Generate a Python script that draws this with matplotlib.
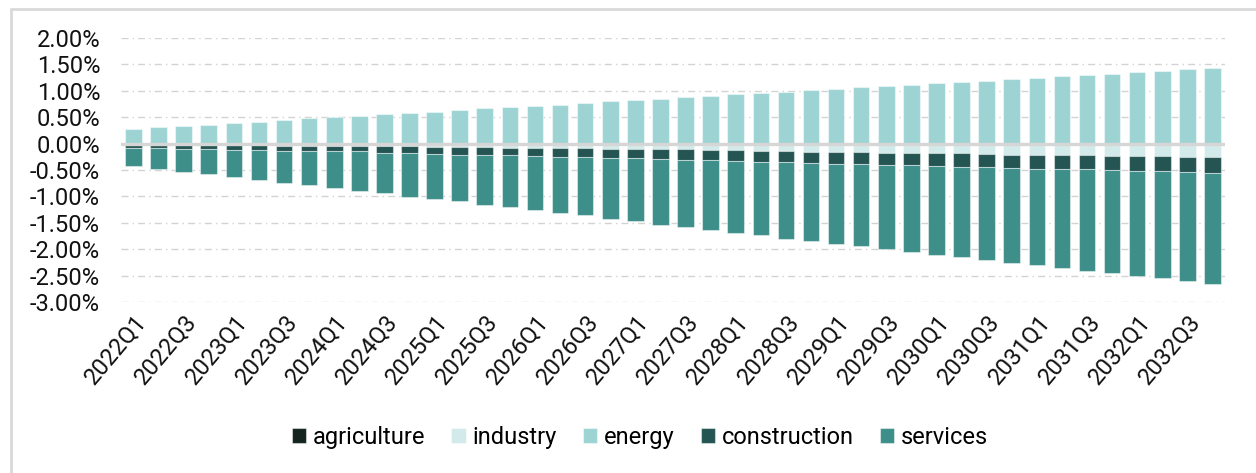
import numpy as np
import matplotlib
matplotlib.use('Agg')
import matplotlib.pyplot as plt
from matplotlib.patches import Rectangle
from matplotlib.ticker import FuncFormatter

plt.rcParams['font.family'] = ['Roboto', 'DejaVu Sans']

# quarters 2022Q1 .. 2032Q4
quarters = [f"{y}Q{q}" for y in range(2022, 2033) for q in range(1, 5)]

agriculture = [-0.01] * 26 + [-0.005] * 8 + [0.015] * 10

industry = [-0.015, -0.015, -0.02, -0.02, -0.025, -0.025, -0.03, -0.03, -0.035, -0.035,
            -0.035, -0.04, -0.05, -0.06, -0.06, -0.065, -0.065, -0.073, -0.079, -0.09,
            -0.09, -0.1, -0.1, -0.115, -0.115, -0.13, -0.135, -0.145, -0.155, -0.155,
            -0.17, -0.172, -0.18, -0.18, -0.196, -0.208, -0.208, -0.215, -0.22, -0.228,
            -0.23, -0.24, -0.25, -0.255]

energy = [0.268, 0.306, 0.330, 0.349, 0.387, 0.412, 0.438, 0.475, 0.500, 0.519,
          0.557, 0.577, 0.604, 0.628, 0.666, 0.685, 0.709, 0.736, 0.774, 0.798,
          0.817, 0.845, 0.872, 0.909, 0.934, 0.958, 0.985, 1.006, 1.025, 1.062,
          1.087, 1.113, 1.138, 1.162, 1.174, 1.204, 1.230, 1.255, 1.274, 1.306,
          1.330, 1.362, 1.387, 1.406]

construction = [-0.05, -0.058, -0.064, -0.064, -0.078, -0.078, -0.092, -0.092, -0.10, -0.10,
                -0.125, -0.133, -0.129, -0.138, -0.138, -0.146, -0.151, -0.162, -0.164, -0.164,
                -0.177, -0.173, -0.192, -0.19, -0.196, -0.20, -0.213, -0.216, -0.217, -0.225,
                -0.221, -0.232, -0.23, -0.249, -0.251, -0.245, -0.264, -0.27, -0.265, -0.263,
                -0.279, -0.283, -0.278, -0.292]

services = [-0.353, -0.402, -0.438, -0.485, -0.517, -0.574, -0.604, -0.655, -0.698, -0.749,
            -0.773, -0.823, -0.862, -0.886, -0.95, -0.987, -1.038, -1.07, -1.105, -1.164,
            -1.195, -1.253, -1.277, -1.315, -1.366, -1.396, -1.447, -1.477, -1.517, -1.558,
            -1.604, -1.642, -1.687, -1.717, -1.749, -1.805, -1.83, -1.868, -1.919, -1.962,
            -1.995, -2.024, -2.07, -2.102]

series = [
    ('agriculture', agriculture, '#14241f'),
    ('industry', industry, '#d3eaea'),
    ('energy', energy, '#9dd4d3'),
    ('construction', construction, '#245553'),
    ('services', services, '#3e8e8a'),
]

fig = plt.figure(figsize=(12.56, 4.73), dpi=100)
ax = fig.add_axes([0.0963, 0.361, 0.879, 0.559])

x = np.arange(len(quarters))
pos_base = np.zeros(len(quarters))
neg_base = np.zeros(len(quarters))
for name, vals, color in series:
    v = np.array(vals)
    bottom = np.where(v >= 0, pos_base, neg_base)
    ax.bar(x, v, bottom=bottom, width=0.66, color=color, label=name,
           edgecolor=(1, 1, 1, 0.45), linewidth=0.8, zorder=2)
    pos_base += np.where(v >= 0, v, 0)
    neg_base += np.where(v < 0, v, 0)

ax.axhline(0, color='#d6d6d6', lw=2.4, zorder=3)

ax.set_ylim(-3, 2)
ax.set_xlim(-0.5, len(quarters) - 0.5)
ax.set_yticks(np.arange(-3, 2.01, 0.5))
ax.yaxis.set_major_formatter(FuncFormatter(lambda v, p: f"{v:.2f}%"))
ax.grid(axis='y', color='#d3d3d3', lw=1, linestyle=(0, (5, 3, 1, 3)), zorder=0)
ax.set_axisbelow(True)

ax.set_xticks(x[::2])
ax.set_xticklabels(quarters[::2], rotation=50, ha='right', rotation_mode='anchor')
for s in ax.spines.values():
    s.set_visible(False)
ax.tick_params(axis='both', length=0, labelsize=17, colors='#111111')
ax.tick_params(axis='y', pad=15)
ax.tick_params(axis='x', pad=6)

fig.legend(loc='center', bbox_to_anchor=(640 / 1256, 1 - 437 / 473), ncol=5,
           frameon=False, fontsize=17, handlelength=0.6, handleheight=0.6,
           handletextpad=0.3, columnspacing=1.1)

# light outer frame
fig.patches.append(Rectangle((11 / 1256, -0.2), 1.5, 1.2 - 9 / 473 + 0.0,
                             transform=fig.transFigure, fill=False,
                             edgecolor='#d9d9d9', lw=2))

fig.savefig('out.png', dpi=100)
